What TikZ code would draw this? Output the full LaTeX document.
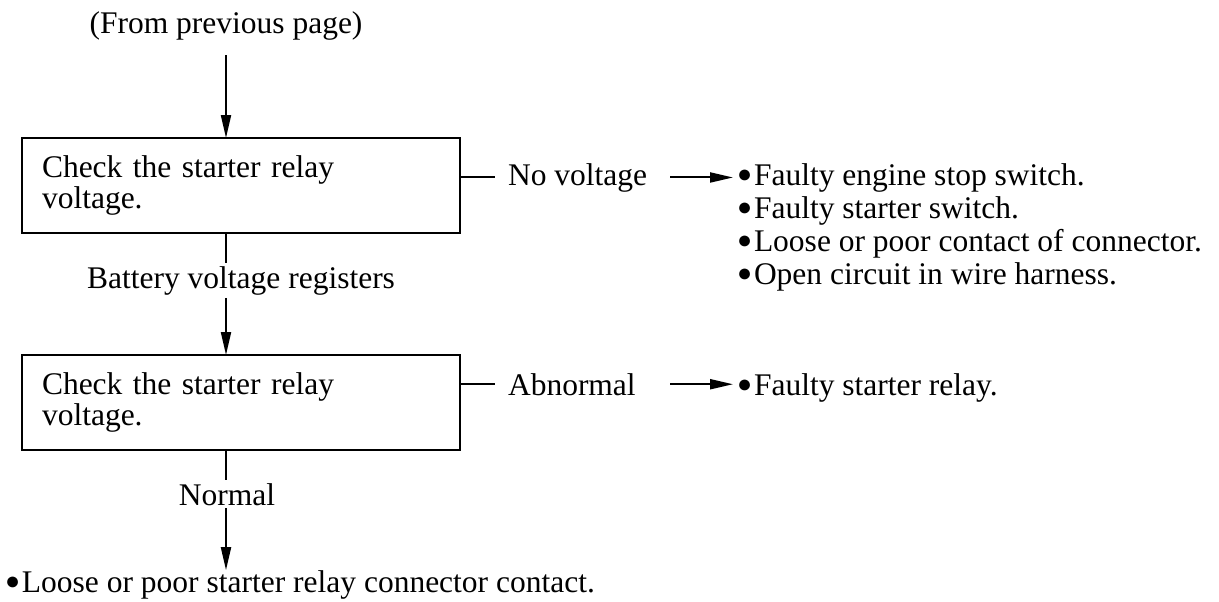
\documentclass[tikz,border=0pt]{standalone}
\usepackage{fontspec}
\setmainfont{Liberation Serif}
\usetikzlibrary{arrows.meta}

\newcommand{\blt}{\raisebox{1.4pt}{\fontsize{12.5}{0}\selectfont ●}\kern0.06em}

\begin{document}
\begin{tikzpicture}[
    x=0.5pt, y=-0.5pt,
    every node/.style={font=\fontsize{15.75}{16.5}\selectfont, inner sep=0pt, outer sep=0pt},
    chk/.style={rectangle, draw=black, line width=0.7pt, minimum width=219pt, minimum height=47.5pt, text width=199pt, inner xsep=10pt, align=left, font=\fontsize{15.75}{14}\selectfont},
    lbl/.style={anchor=base, inner ysep=1.5pt},
    res/.style={anchor=base west, align=left},
    link/.style={line width=1pt},
    arrow/.style={line width=1pt, -{Triangle[length=11.5pt, width=5pt]}}
]
\useasboundingbox (0,0) rectangle (1219,601);

\node[lbl] (prev) at (226,33) {(From previous page)};
\coordinate (top) at (226,55);
\coordinate (ax) at (670,0);

\node[chk] (chk1) at (241,185.5) {Check the starter relay\\voltage.};
\node[lbl, anchor=base west] (nv) at (508,185) {No voltage};
\node[res, anchor=north west] (res1) at (737,163.5) {\blt Faulty engine stop switch.\\\blt Faulty starter switch.\\\blt Loose or poor contact of connector.\\\blt Open circuit in wire harness.};
\node[lbl] (bat) at (241,288) {Battery voltage registers};

\node[chk] (chk2) at (241,402.5) {Check the starter relay\\voltage.};
\node[lbl, anchor=base west] (ab) at (508,395) {Abnormal};
\node[res] (res2) at (737,395) {\blt Faulty starter relay.};
\node[lbl] (norm) at (227,505) {Normal};
\node[res] (res3) at (5,592) {\blt Loose or poor starter relay connector contact.};

\draw[arrow] (top) -- (top |- chk1.north);
\draw[link] (top |- chk1.south) -- (top |- bat.north);
\draw[arrow] (top |- bat.south) -- (top |- chk2.north);
\draw[link] (top |- chk2.south) -- (top |- norm.north);
\draw[arrow] (top |- norm.south) -- (top |- res3.north);

\draw[link] (chk1.east |- nv) -- ([xshift=-6.5pt]nv.west);
\draw[arrow] (ax |- nv) -- ([xshift=-2pt]res1.west |- nv);
\draw[link] (chk2.east |- ab) -- ([xshift=-6.5pt]ab.west);
\draw[arrow] (ax |- ab) -- ([xshift=-2pt]res2.west |- ab);

\end{tikzpicture}
\end{document}
